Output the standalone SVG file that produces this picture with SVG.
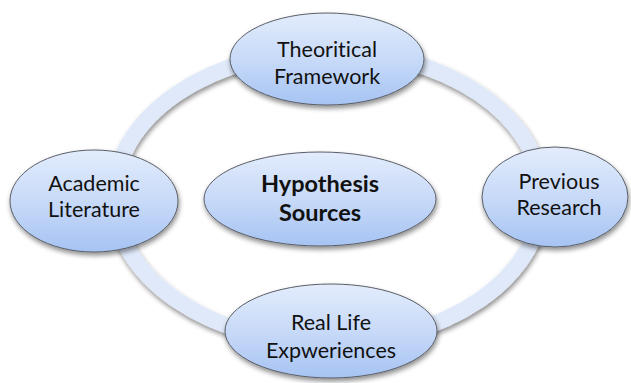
<svg xmlns="http://www.w3.org/2000/svg" width="631" height="383" viewBox="0 0 631 383">
  <defs>
    <linearGradient id="nodeFill" x1="0" y1="0" x2="0" y2="1">
      <stop offset="0" stop-color="#e2ecfc"/>
      <stop offset="0.5" stop-color="#c8daf8"/>
      <stop offset="1" stop-color="#a6c3f3"/>
    </linearGradient>
    <filter id="shadow" x="-20%" y="-20%" width="150%" height="150%">
      <feGaussianBlur in="SourceAlpha" stdDeviation="2.5"/>
      <feOffset dx="1" dy="3" result="b"/>
      <feComponentTransfer><feFuncA type="linear" slope="0.45"/></feComponentTransfer>
      <feMerge><feMergeNode/><feMergeNode in="SourceGraphic"/></feMerge>
    </filter>
  </defs>
  <style>
    .node { fill: url(#nodeFill); stroke: #5a5f68; stroke-width: 1; filter: url(#shadow); }
    .label { font-family: Lato, "Open Sans", "Liberation Sans", sans-serif; font-size: 21.5px; fill: #111; text-anchor: middle; font-variant-ligatures: none; font-feature-settings: "liga" 0; }
    .title { font-weight: bold; font-size: 23.5px; }
    .ring { fill: none; stroke: #e0e9fa; stroke-width: 16; filter: url(#shadow); }
  </style>
  <rect width="631" height="383" fill="#ffffff"/>

  <!-- ring linking the outer sources -->
  <g id="connectors">
    <ellipse class="ring" cx="328" cy="197" rx="214" ry="146"/>
  </g>

  <g id="theoretical-framework">
    <ellipse class="node" cx="327" cy="59" rx="97" ry="46"/>
    <text class="label" x="327" y="57">Theoritical</text>
    <text class="label" x="327" y="84">Framework</text>
  </g>

  <g id="academic-literature">
    <ellipse class="node" cx="94" cy="201" rx="84" ry="51"/>
    <text class="label" x="94" y="191">Academic</text>
    <text class="label" x="94" y="217">Literature</text>
  </g>

  <g id="hypothesis-sources">
    <ellipse class="node" cx="320" cy="199" rx="116" ry="47"/>
    <text class="label title" x="320" y="192">Hypothesis</text>
    <text class="label title" x="320" y="221">Sources</text>
  </g>

  <g id="previous-research">
    <ellipse class="node" cx="555" cy="197" rx="73" ry="50"/>
    <text class="label" x="559" y="189">Previous</text>
    <text class="label" x="559" y="215">Research</text>
  </g>

  <g id="real-life-experiences">
    <ellipse class="node" cx="331" cy="331" rx="106" ry="47"/>
    <text class="label" x="331" y="330">Real Life</text>
    <text class="label" x="331" y="358">Expweriences</text>
  </g>
</svg>
